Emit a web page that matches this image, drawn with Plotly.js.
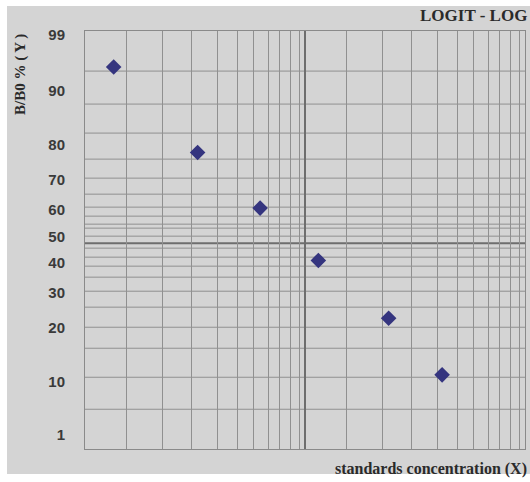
<!DOCTYPE html>
<html>
<head>
<meta charset="utf-8">
<script src="https://cdn.plot.ly/plotly-3.0.1.min.js"></script>
<style>html,body{margin:0;padding:0;background:#fff;}#chart{width:530px;height:482px;}</style>
</head>
<body>
<div id="chart"></div>
<script>
// ---- data ----
const concentration = [1.35, 3.25, 6.25, 11.5, 24, 42];
const bB0Percent = [92.8, 78, 60.5, 41, 22.5, 11];
const yTickLabels = ['99', '90', '80', '70', '60', '50', '40', '30', '20', '10', '1'];
const yTickPercent = [99, 90, 80, 70, 60, 50, 40, 30, 20, 10, 1];
const chartTitle = 'LOGIT - LOG';
const xTitle = 'standards concentration (X)';
const yTitle = 'B/B0 % ( Y )';

// ---- style (grid of the printed logit-log paper) ----
const Y_MIN = -3.21, Y_MAX = 3.10;
const decades = [1, 10];
const gridFrac = [0.19, 0.35, 0.482, 0.60, 0.691, 0.768, 0.832, 0.886, 0.932, 0.973];
const hGridLogit = [2.495, 1.997, 1.559, 1.166, 0.879, 0.637, 0.441, 0.305, 0.184, 0.124, 0.003,
                    -0.178, -0.314, -0.450, -0.616, -0.828, -1.069, -1.372, -1.689, -2.127, -2.610];
const thickHLogit = -0.103;
const BG = '#d4d4d4', GRID = '#909090', DARK = '#6e6e6e';

const logit = p => Math.log((p / 100) / (1 - p / 100));
const tickPos = p => Math.max(Y_MIN + 0.22, Math.min(Y_MAX - 0.06, logit(p)));

const xGrid = [];
decades.forEach(d => gridFrac.forEach(f => xGrid.push(d * Math.pow(10, f))));

const shapes = [
  {type: 'rect', xref: 'paper', yref: 'paper', x0: -0.1773, x1: 1.02, y0: -0.0598, y1: 1.0598,
   fillcolor: BG, line: {width: 0}, layer: 'below'}
];
hGridLogit.forEach(u => shapes.push({type: 'line', xref: 'paper', yref: 'y', x0: 0, x1: 1, y0: u, y1: u,
  line: {color: GRID, width: 1}, layer: 'between'}));
shapes.push({type: 'line', xref: 'paper', yref: 'y', x0: 0, x1: 1, y0: thickHLogit, y1: thickHLogit,
  line: {color: DARK, width: 2}, layer: 'between'});
shapes.push({type: 'line', xref: 'x', yref: 'paper', x0: 10, x1: 10, y0: 0, y1: 1,
  line: {color: DARK, width: 2}, layer: 'between'});

const trace = {
  x: concentration,
  y: bB0Percent.map(logit),
  type: 'scatter',
  mode: 'markers',
  marker: {symbol: 'diamond', size: 12, color: '#35357f'},
  hoverinfo: 'skip'
};

const layout = {
  width: 530, height: 482,
  margin: {l: 85, r: 5, t: 31, b: 33, pad: 0},
  paper_bgcolor: '#ffffff',
  plot_bgcolor: BG,
  showlegend: false,
  xaxis: {
    type: 'log', range: [0, 2], tickmode: 'array', tickvals: xGrid,
    showticklabels: false, ticks: '', showgrid: true, gridcolor: GRID, gridwidth: 1,
    showline: true, mirror: true, linecolor: '#8a8a8a', linewidth: 1, zeroline: false, fixedrange: true
  },
  yaxis: {
    range: [Y_MIN, Y_MAX], tickmode: 'array',
    tickvals: yTickPercent.map(tickPos), ticktext: yTickLabels,
    showgrid: false, zeroline: false, ticks: '', ticklabelstandoff: 16,
    tickfont: {family: 'Liberation Sans, Arial, sans-serif', size: 15, weight: 'bold', color: '#3a3a3a'},
    showline: true, mirror: true, linecolor: '#8a8a8a', linewidth: 1, fixedrange: true
  },
  shapes: shapes,
  annotations: [
    {text: chartTitle, xref: 'paper', yref: 'paper', x: 1.008, y: 1.038, xanchor: 'right', yanchor: 'middle',
     showarrow: false, font: {family: 'Liberation Serif, Times New Roman, serif', size: 17, weight: 'bold', color: '#2a2a2a'}},
    {text: xTitle, xref: 'paper', yref: 'paper', x: 1.0095, y: -0.048, xanchor: 'right', yanchor: 'middle',
     showarrow: false, font: {family: 'Liberation Serif, Times New Roman, serif', size: 16, weight: 'bold', color: '#2a2a2a'}},
    {text: yTitle, xref: 'paper', yref: 'paper', x: -0.1477, y: 0.8947, xanchor: 'center', yanchor: 'middle',
     textangle: -90, showarrow: false, font: {family: 'Liberation Serif, Times New Roman, serif', size: 15, weight: 'bold', color: '#2a2a2a'}}
  ]
};

Plotly.newPlot('chart', [trace], layout, {displayModeBar: false, staticPlot: true});
</script>
</body>
</html>
